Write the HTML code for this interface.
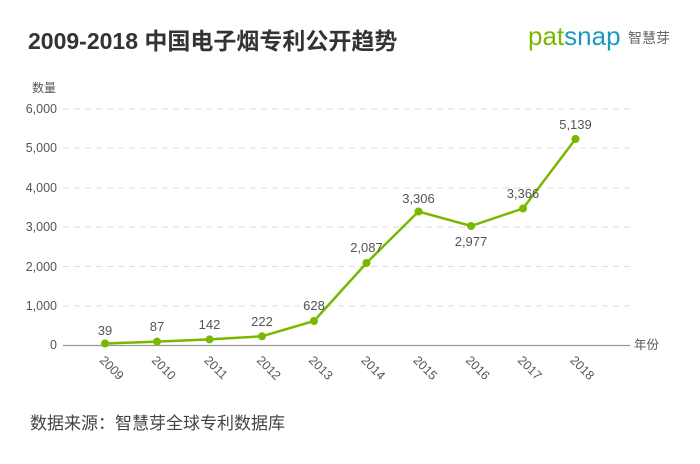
<!DOCTYPE html>
<html><head><meta charset="utf-8"><style>
body{margin:0;background:#fff;}
svg text{font-family:"Liberation Sans","Noto Sans CJK SC",sans-serif;}
</style></head><body>
<svg width="700" height="459" viewBox="0 0 700 459" xmlns="http://www.w3.org/2000/svg">
<rect width="700" height="459" fill="#fff"/>
<text x="28" y="49" font-size="23" font-weight="bold" fill="#333">2009-2018 中国电子烟专利公开趋势</text>
<text x="528" y="45" font-size="26" fill="#7ab800">pat<tspan fill="#1a9bbf">snap</tspan></text>
<text x="628" y="43" font-size="14" fill="#666">智慧芽</text>
<text x="32" y="92" font-size="12" fill="#555">数量</text>
<g fill="#555" font-size="12.5" text-anchor="end">
<text x="57" y="113">6,000</text><text x="57" y="152">5,000</text><text x="57" y="192">4,000</text>
<text x="57" y="231">3,000</text><text x="57" y="271">2,000</text><text x="57" y="310">1,000</text><text x="57" y="349">0</text>
</g>
<g stroke="#ddd" stroke-dasharray="6,5" stroke-width="1">
<line x1="63" y1="109" x2="630" y2="109"/><line x1="63" y1="148" x2="630" y2="148"/>
<line x1="63" y1="188" x2="630" y2="188"/><line x1="63" y1="227" x2="630" y2="227"/>
<line x1="63" y1="266.5" x2="630" y2="266.5"/><line x1="63" y1="306" x2="630" y2="306"/>
</g>
<line x1="63" y1="345.5" x2="630" y2="345.5" stroke="#999" stroke-width="1.2"/>
<text x="634" y="349" font-size="12.5" fill="#555">年份</text>
<polyline fill="none" stroke="#7ab800" stroke-width="2.5" points="105,343.5 157,341.6 209.5,339.4 262,336.3 314,321 366.5,263 418.5,211.5 471,226 523,208.5 575.5,139"/>
<g fill="#7ab800">
<circle cx="105" cy="343.5" r="4"/><circle cx="157" cy="341.6" r="4"/><circle cx="209.5" cy="339.4" r="4"/>
<circle cx="262" cy="336.3" r="4"/><circle cx="314" cy="321" r="4"/><circle cx="366.5" cy="263" r="4"/>
<circle cx="418.5" cy="211.5" r="4"/><circle cx="471" cy="226" r="4"/><circle cx="523" cy="208.5" r="4"/><circle cx="575.5" cy="139" r="4"/>
</g>
<g fill="#555" font-size="13" text-anchor="middle">
<text x="105" y="335">39</text><text x="157" y="331">87</text><text x="209.5" y="329">142</text>
<text x="262" y="326">222</text><text x="314" y="310">628</text><text x="366.5" y="252">2,087</text>
<text x="418.5" y="203">3,306</text><text x="471" y="246">2,977</text><text x="523" y="198">3,366</text><text x="575.5" y="129">5,139</text>
</g>
<g fill="#555" font-size="12.5">
<text transform="translate(99,361) rotate(45)">2009</text>
<text transform="translate(151,361) rotate(45)">2010</text>
<text transform="translate(203.5,361) rotate(45)">2011</text>
<text transform="translate(256,361) rotate(45)">2012</text>
<text transform="translate(308,361) rotate(45)">2013</text>
<text transform="translate(360.5,361) rotate(45)">2014</text>
<text transform="translate(412.5,361) rotate(45)">2015</text>
<text transform="translate(465,361) rotate(45)">2016</text>
<text transform="translate(517,361) rotate(45)">2017</text>
<text transform="translate(569.5,361) rotate(45)">2018</text>
</g>
<text x="30" y="429" font-size="17" fill="#444">数据来源：智慧芽全球专利数据库</text>
</svg>
</body></html>
